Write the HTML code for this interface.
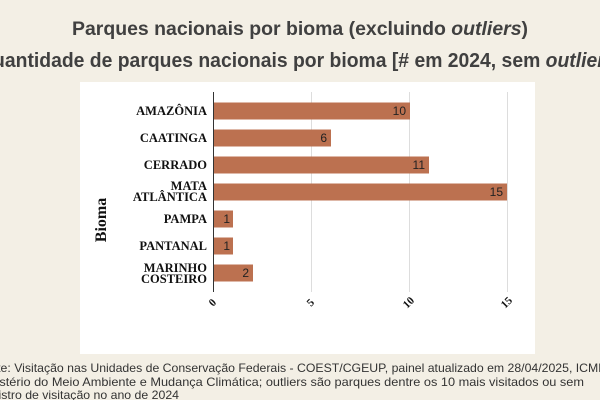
<!DOCTYPE html>
<html><head><meta charset="utf-8"><style>
body{margin:0;background:#f3efe5;width:600px;height:400px;overflow:hidden}
svg{display:block}
.t{font-family:"Liberation Sans",sans-serif;font-weight:bold;fill:#404040}
.c{font-family:"Liberation Serif",serif;font-weight:bold;font-size:12.5px;fill:#111;text-anchor:end}
.v{font-family:"Liberation Sans",sans-serif;font-size:12px;fill:#222;text-anchor:end}
.f{font-family:"Liberation Sans",sans-serif;font-size:12px;fill:#333}
</style></head><body>
<svg width="600" height="400" xmlns="http://www.w3.org/2000/svg">
<rect width="600" height="400" fill="#f3efe5"/>
<text class="t" x="300" y="35" font-size="19" text-anchor="middle" textLength="456" lengthAdjust="spacingAndGlyphs">Parques nacionais por bioma (excluindo <tspan font-style="italic">outliers</tspan>)</text>
<text class="t" x="-22" y="67" font-size="20" textLength="644" lengthAdjust="spacingAndGlyphs">Quantidade de parques nacionais por bioma [# em 2024, sem <tspan font-style="italic">outliers</tspan>]</text>
<rect x="80" y="82" width="455" height="272" fill="#fff"/>
<g stroke="#ddd" stroke-width="1">
<line x1="311.5" y1="92" x2="311.5" y2="292"/>
<line x1="409.5" y1="92" x2="409.5" y2="292"/>
<line x1="507.5" y1="92" x2="507.5" y2="292"/>
</g>
<line x1="213.5" y1="92" x2="213.5" y2="292" stroke="#333"/>
<g fill="#bc7150">
<rect x="214" y="102.5" width="196" height="17"/>
<rect x="214" y="129.5" width="117" height="17"/>
<rect x="214" y="156.5" width="215" height="17"/>
<rect x="214" y="183.5" width="293" height="17"/>
<rect x="214" y="210.5" width="19" height="17"/>
<rect x="214" y="237.5" width="19" height="17"/>
<rect x="214" y="264.5" width="39" height="17"/>
</g>
<g class="v">
<text x="406" y="115">10</text><text x="327" y="142">6</text><text x="425" y="169">11</text>
<text x="503" y="196">15</text><text x="230" y="223">1</text><text x="230" y="250">1</text><text x="249" y="277">2</text>
</g>
<g class="c">
<text x="207" y="115">AMAZÔNIA</text>
<text x="207" y="142">CAATINGA</text>
<text x="207" y="169">CERRADO</text>
<text x="207" y="190">MATA</text><text x="207" y="201">ATLÂNTICA</text>
<text x="207" y="223">PAMPA</text>
<text x="207" y="250">PANTANAL</text>
<text x="207" y="272">MARINHO</text><text x="207" y="283">COSTEIRO</text>
</g>
<text class="c" transform="translate(106,220) rotate(-90)" style="text-anchor:middle;font-size:16px">Bioma</text>
<g class="c" style="font-size:11px;text-anchor:middle">
<text transform="translate(215,305) rotate(-45)">0</text>
<text transform="translate(313,305) rotate(-45)">5</text>
<text transform="translate(411,305) rotate(-45)">10</text>
<text transform="translate(509,305) rotate(-45)">15</text>
</g>
<text class="f" x="-24" y="372" textLength="640" lengthAdjust="spacingAndGlyphs">Fonte: Visitação nas Unidades de Conservação Federais - COEST/CGEUP, painel atualizado em 28/04/2025, ICMBio</text>
<text class="f" x="-24" y="386" textLength="608" lengthAdjust="spacingAndGlyphs">Ministério do Meio Ambiente e Mudança Climática; outliers são parques dentre os 10 mais visitados ou sem</text>
<text class="f" x="-24" y="399" textLength="203" lengthAdjust="spacingAndGlyphs">Registro de visitação no ano de 2024</text>
</svg>
</body></html>
